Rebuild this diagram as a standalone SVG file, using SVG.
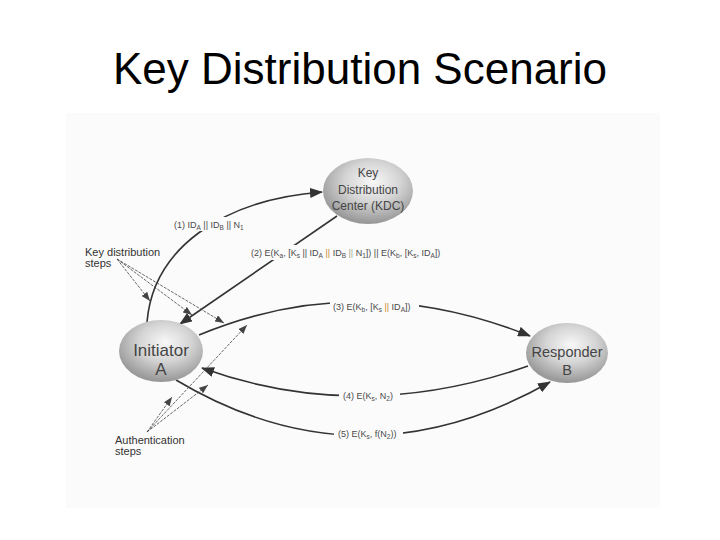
<svg xmlns="http://www.w3.org/2000/svg" width="720" height="540" viewBox="0 0 720 540">
<style>
.title{font-family:"Liberation Sans",Arial,sans-serif;font-size:44px;fill:#000;text-anchor:middle}
.node{font-family:"Liberation Sans",Arial,sans-serif;fill:#454545;text-anchor:middle}
.lbl{font-family:"Liberation Sans",Arial,sans-serif;font-size:9px;fill:#4a4a4a}
.sub{font-size:6.5px}
.note{font-family:"Liberation Sans",Arial,sans-serif;font-size:11px;fill:#333}
.conn{fill:none;stroke:#333;stroke-width:1.6}
.thin{fill:none;stroke:#444;stroke-width:0.8;stroke-dasharray:3,1.2}
.bg{fill:#fbfbfb}
.or{fill:#c8892a}
.gr{fill:#9aab8c}
</style>
<defs>
<radialGradient id="g" cx="55%" cy="36%" r="62%">
<stop offset="0" stop-color="#f8f8f8"/>
<stop offset="0.5" stop-color="#d4d4d4"/>
<stop offset="1" stop-color="#999"/>
</radialGradient>
<marker id="lg" markerUnits="userSpaceOnUse" markerWidth="13" markerHeight="10" refX="12" refY="5" orient="auto">
<path d="M0,0 L13,5 L0,10 z" fill="#333"/>
</marker>
<marker id="sm" markerUnits="userSpaceOnUse" markerWidth="9" markerHeight="7" refX="9" refY="3.5" orient="auto">
<path d="M0,0 L9,3.5 L0,7 z" fill="#444"/>
</marker>
</defs>
<rect x="0" y="0" width="720" height="540" fill="#fff"/>
<text class="title" x="360" y="84">Key Distribution Scenario</text>
<rect x="66" y="113" width="594" height="395" fill="#fbfbfb"/>

<g id="connectors">
<path class="conn" d="M147,322 C153,250 220,200 322,192" marker-end="url(#lg)"/>
<path class="conn" d="M337,216 L180,324" marker-end="url(#lg)"/>
<path class="conn" d="M199,335 Q360,268 530,336" marker-end="url(#lg)"/>
<path class="conn" d="M528,366 Q360,425 202,368" marker-end="url(#lg)"/>
<path class="conn" d="M176,380 Q360,490 550,382" marker-end="url(#lg)"/>
<path class="thin" d="M117,259 L150,301" marker-end="url(#sm)"/>
<path class="thin" d="M117,259 L192,315" marker-end="url(#sm)"/>
<path class="thin" d="M117,259 L224,323" marker-end="url(#sm)"/>
<path class="thin" d="M147,432 L172,397" marker-end="url(#sm)"/>
<path class="thin" d="M147,432 L208,385" marker-end="url(#sm)"/>
<path class="thin" d="M147,432 L247,325" marker-end="url(#sm)"/>
</g>

<g id="labels">
<rect class="bg" x="171" y="217" width="80" height="14"/>
<text class="lbl" x="174" y="228">(1) ID<tspan class="sub" dy="2">A</tspan><tspan dy="-2"> || ID</tspan><tspan class="sub" dy="2">B</tspan><tspan dy="-2"> || N</tspan><tspan class="sub" dy="2">1</tspan></text>
<rect class="bg" x="249" y="245" width="200" height="15"/>
<text class="lbl" x="251" y="256">(2) E(K<tspan class="sub" dy="2">a</tspan><tspan dy="-2">, [K</tspan><tspan class="sub" dy="2">s</tspan><tspan dy="-2"> || ID</tspan><tspan class="sub" dy="2">A</tspan><tspan dy="-2"> </tspan><tspan class="or">||</tspan> ID<tspan class="sub" dy="2">B</tspan><tspan dy="-2"> </tspan><tspan class="gr">||</tspan> N<tspan class="sub" dy="2">1</tspan><tspan dy="-2">]) || E(K</tspan><tspan class="sub" dy="2">b</tspan><tspan dy="-2">, [K</tspan><tspan class="sub" dy="2">s</tspan><tspan dy="-2">, ID</tspan><tspan class="sub" dy="2">A</tspan><tspan dy="-2">])</tspan></text>
<rect class="bg" x="330" y="299" width="89" height="15"/>
<text class="lbl" x="333" y="310">(3) E(K<tspan class="sub" dy="2">b</tspan><tspan dy="-2">, [K</tspan><tspan class="sub" dy="2">s</tspan><tspan dy="-2"> </tspan><tspan class="or">||</tspan> ID<tspan class="sub" dy="2">A</tspan><tspan dy="-2">])</tspan></text>
<rect class="bg" x="339" y="389" width="61" height="15"/>
<text class="lbl" x="343" y="399">(4) E(K<tspan class="sub" dy="2">s</tspan><tspan dy="-2">, N</tspan><tspan class="sub" dy="2">2</tspan><tspan dy="-2">)</tspan></text>
<rect class="bg" x="334" y="426" width="69" height="15"/>
<text class="lbl" x="338" y="437">(5) E(K<tspan class="sub" dy="2">s</tspan><tspan dy="-2">, f(N</tspan><tspan class="sub" dy="2">2</tspan><tspan dy="-2">))</tspan></text>
<text class="note" x="85" y="256">Key distribution</text>
<text class="note" x="85" y="267">steps</text>
<text class="note" x="115" y="444">Authentication</text>
<text class="note" x="115" y="455">steps</text>
</g>

<g id="kdc">
<ellipse cx="368" cy="191" rx="45" ry="33" fill="url(#g)"/>
<text class="node" font-size="12" x="368" y="177">Key</text>
<text class="node" font-size="12" x="368" y="194">Distribution</text>
<text class="node" font-size="12" x="368" y="210">Center (KDC)</text>
</g>
<g id="initiator">
<ellipse cx="161" cy="351" rx="42" ry="31" fill="url(#g)"/>
<text class="node" font-size="17" x="161" y="356">Initiator</text>
<text class="node" font-size="17" x="161" y="375">A</text>
</g>
<g id="responder">
<ellipse cx="567" cy="353" rx="41" ry="30" fill="url(#g)"/>
<text class="node" font-size="14.5" x="567" y="357">Responder</text>
<text class="node" font-size="14.5" x="567" y="375">B</text>
</g>
</svg>
